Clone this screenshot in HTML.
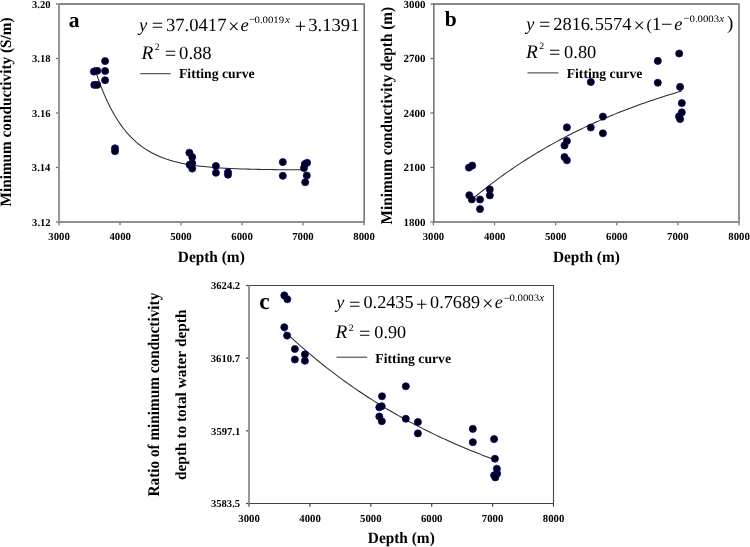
<!DOCTYPE html>
<html><head><meta charset="utf-8"><style>
html,body{margin:0;padding:0;background:#fff;}
body{width:750px;height:547px;overflow:hidden;}
svg{display:block;}
text{font-family:"Liberation Serif",serif;font-kerning:none;fill:#000;text-rendering:geometricPrecision;}
.tx{filter:grayscale(1);}
</style></head><body>
<svg width="750" height="547" viewBox="0 0 750 547">
<rect width="750" height="547" fill="#fff"/>
<g class="tx">
<text x="32.05" y="7.70" font-size="10.60" font-weight="bold">3.20</text>
<text x="32.00" y="62.20" font-size="10.60" font-weight="bold">3.18</text>
<text x="31.96" y="116.70" font-size="10.60" font-weight="bold">3.16</text>
<text x="31.85" y="171.20" font-size="10.60" font-weight="bold">3.14</text>
<text x="32.11" y="225.70" font-size="10.60" font-weight="bold">3.12</text>
<text x="48.25" y="239.50" font-size="10.75" font-weight="bold">3000</text>
<text x="109.38" y="239.50" font-size="10.75" font-weight="bold">4000</text>
<text x="170.24" y="239.50" font-size="10.75" font-weight="bold">5000</text>
<text x="231.27" y="239.50" font-size="10.75" font-weight="bold">6000</text>
<text x="292.15" y="239.50" font-size="10.75" font-weight="bold">7000</text>
<text x="353.28" y="239.50" font-size="10.75" font-weight="bold">8000</text>
<text transform="translate(177.84,261.60) scale(1.000,1.030)" font-size="15.35" font-weight="bold">Depth (m)</text>
<text transform="translate(11.40,112.20) rotate(-90) scale(1,1.040)" x="-94.26" y="0" font-size="15.25" font-weight="bold">Minimum conductivity (S/m)</text>
<text x="68.81" y="26.50" font-size="21.50" font-weight="bold">a</text>
<text x="138.95" y="30.90" font-size="18.60" font-style="italic">y</text>
<text x="151.74" y="32.44" font-size="20.30">=</text>
<text x="166.01" y="30.90" font-size="18.60">37.0417</text>
<text x="228.09" y="32.75" font-size="20.30">×</text>
<text x="240.43" y="30.90" font-size="18.60" font-style="italic">e</text>
<text x="248.93" y="23.02" font-size="11.50">−</text>
<text transform="translate(254.49,22.90) scale(1.100,1.000)" font-size="9.80">0.0019</text>
<text x="285.03" y="22.90" font-size="11.00" font-style="italic">x</text>
<text x="294.79" y="32.59" font-size="20.30">+</text>
<text x="308.31" y="30.90" font-size="18.60">3.1391</text>
<text x="141.50" y="58.80" font-size="19.30" font-style="italic">R</text>
<text x="154.87" y="50.20" font-size="9.80">2</text>
<text x="164.84" y="60.49" font-size="20.30">=</text>
<text x="179.09" y="58.80" font-size="18.60">0.88</text>
<text x="178.97" y="78.20" font-size="13.70" font-weight="bold">Fitting curve</text>
<text x="403.52" y="7.70" font-size="10.95" font-weight="bold">3000</text>
<text x="403.52" y="62.20" font-size="10.95" font-weight="bold">2700</text>
<text x="403.52" y="116.70" font-size="10.95" font-weight="bold">2400</text>
<text x="403.52" y="171.20" font-size="10.95" font-weight="bold">2100</text>
<text x="403.52" y="225.70" font-size="10.95" font-weight="bold">1800</text>
<text x="422.65" y="239.50" font-size="10.75" font-weight="bold">3000</text>
<text x="483.90" y="239.50" font-size="10.75" font-weight="bold">4000</text>
<text x="544.88" y="239.50" font-size="10.75" font-weight="bold">5000</text>
<text x="606.03" y="239.50" font-size="10.75" font-weight="bold">6000</text>
<text x="667.03" y="239.50" font-size="10.75" font-weight="bold">7000</text>
<text x="728.28" y="239.50" font-size="10.75" font-weight="bold">8000</text>
<text transform="translate(552.94,262.30) scale(1.000,1.030)" font-size="15.35" font-weight="bold">Depth (m)</text>
<text transform="translate(392.30,115.75) rotate(-90) scale(1,1.070)" x="-108.66" y="0" font-size="15.28" font-weight="bold">Minimum conductivity depth (m)</text>
<text x="444.63" y="25.80" font-size="21.50" font-weight="bold">b</text>
<text x="526.34" y="29.90" font-size="18.40" font-style="italic">y</text>
<text x="539.09" y="31.34" font-size="20.30">=</text>
<text x="553.29" y="29.90" font-size="18.40">2816</text>
<text x="589.19" y="29.90" font-size="18.40">.</text>
<text x="594.63" y="29.90" font-size="18.40">5574</text>
<text x="633.49" y="31.75" font-size="20.30">×</text>
<text x="646.40" y="30.40" font-size="16.00">(</text>
<text x="651.88" y="29.90" font-size="18.40">1</text>
<text x="660.99" y="31.34" font-size="20.30">−</text>
<text x="674.13" y="29.90" font-size="18.40" font-style="italic">e</text>
<text x="683.23" y="22.12" font-size="11.50">−</text>
<text transform="translate(689.49,22.00) scale(1.100,1.000)" font-size="9.80">0.0003</text>
<text x="719.33" y="22.00" font-size="11.00" font-style="italic">x</text>
<text x="726.89" y="29.30" font-size="19.00">)</text>
<text x="526.00" y="57.70" font-size="19.30" font-style="italic">R</text>
<text x="539.27" y="49.40" font-size="9.80">2</text>
<text x="549.09" y="59.39" font-size="20.30">=</text>
<text x="564.10" y="57.70" font-size="18.40">0.80</text>
<text x="566.67" y="77.70" font-size="13.70" font-weight="bold">Fitting curve</text>
<text x="211.01" y="289.20" font-size="10.60" font-weight="bold">3624.2</text>
<text x="210.81" y="361.87" font-size="10.60" font-weight="bold">3610.7</text>
<text x="211.10" y="434.53" font-size="10.60" font-weight="bold">3597.1</text>
<text x="210.94" y="507.20" font-size="10.60" font-weight="bold">3583.5</text>
<text x="238.25" y="521.70" font-size="10.75" font-weight="bold">3000</text>
<text x="299.28" y="521.70" font-size="10.75" font-weight="bold">4000</text>
<text x="360.04" y="521.70" font-size="10.75" font-weight="bold">5000</text>
<text x="420.97" y="521.70" font-size="10.75" font-weight="bold">6000</text>
<text x="481.75" y="521.70" font-size="10.75" font-weight="bold">7000</text>
<text x="542.78" y="521.70" font-size="10.75" font-weight="bold">8000</text>
<text transform="translate(367.84,542.70) scale(1.000,1.030)" font-size="15.35" font-weight="bold">Depth (m)</text>
<text transform="translate(159.20,394.50) rotate(-90) scale(1,1.070)" x="-102.00" y="0" font-size="15.26" font-weight="bold">Ratio of minimum conductivity</text>
<text transform="translate(186.40,394.50) rotate(-90) scale(1,1.000)" x="-85.47" y="0" font-size="15.35" font-weight="bold">depth to total water depth</text>
<text x="259.20" y="308.60" font-size="23.50" font-weight="bold">c</text>
<text x="336.32" y="308.40" font-size="18.20" font-style="italic">y</text>
<text x="348.89" y="310.59" font-size="20.30">=</text>
<text x="363.51" y="308.40" font-size="18.20">0.2435</text>
<text x="415.89" y="310.64" font-size="20.30">+</text>
<text x="430.11" y="308.40" font-size="18.20">0.7689</text>
<text x="481.89" y="310.35" font-size="20.30">×</text>
<text x="494.74" y="308.40" font-size="18.20" font-style="italic">e</text>
<text x="503.73" y="301.82" font-size="11.50">−</text>
<text transform="translate(509.49,301.20) scale(1.100,1.000)" font-size="9.80">0.0003</text>
<text x="539.33" y="301.20" font-size="11.00" font-style="italic">x</text>
<text x="335.50" y="338.40" font-size="19.30" font-style="italic">R</text>
<text x="348.77" y="331.00" font-size="9.80">2</text>
<text x="358.89" y="340.24" font-size="20.30">=</text>
<text x="374.31" y="338.40" font-size="18.20">0.90</text>
<text x="375.37" y="363.00" font-size="13.70" font-weight="bold">Fitting curve</text>
</g>
<line x1="56.00" y1="4.00" x2="59.00" y2="4.00" stroke="#666" stroke-width="1.2"/>
<line x1="56.00" y1="58.50" x2="59.00" y2="58.50" stroke="#666" stroke-width="1.2"/>
<line x1="56.00" y1="113.00" x2="59.00" y2="113.00" stroke="#666" stroke-width="1.2"/>
<line x1="56.00" y1="167.50" x2="59.00" y2="167.50" stroke="#666" stroke-width="1.2"/>
<line x1="56.00" y1="222.00" x2="59.00" y2="222.00" stroke="#666" stroke-width="1.2"/>
<line x1="59.00" y1="222.00" x2="59.00" y2="225.20" stroke="#666" stroke-width="1.2"/>
<line x1="120.00" y1="222.00" x2="120.00" y2="225.20" stroke="#666" stroke-width="1.2"/>
<line x1="181.00" y1="222.00" x2="181.00" y2="225.20" stroke="#666" stroke-width="1.2"/>
<line x1="242.00" y1="222.00" x2="242.00" y2="225.20" stroke="#666" stroke-width="1.2"/>
<line x1="303.00" y1="222.00" x2="303.00" y2="225.20" stroke="#666" stroke-width="1.2"/>
<line x1="364.00" y1="222.00" x2="364.00" y2="225.20" stroke="#666" stroke-width="1.2"/>
<line x1="58.50" y1="4.00" x2="364.50" y2="4.00" stroke="#8a8a8a" stroke-width="2"/>
<line x1="58.50" y1="222.00" x2="364.50" y2="222.00" stroke="#8e8e8e" stroke-width="2"/>
<line x1="59.00" y1="4.00" x2="59.00" y2="222.00" stroke="#959595" stroke-width="2"/>
<line x1="364.20" y1="4.00" x2="364.20" y2="222.00" stroke="#747474" stroke-width="1.6"/>
<line x1="140.30" y1="73.70" x2="170.70" y2="73.70" stroke="#333" stroke-width="1"/>
<line x1="430.40" y1="4.00" x2="433.40" y2="4.00" stroke="#666" stroke-width="1.2"/>
<line x1="430.40" y1="58.50" x2="433.40" y2="58.50" stroke="#666" stroke-width="1.2"/>
<line x1="430.40" y1="113.00" x2="433.40" y2="113.00" stroke="#666" stroke-width="1.2"/>
<line x1="430.40" y1="167.50" x2="433.40" y2="167.50" stroke="#666" stroke-width="1.2"/>
<line x1="430.40" y1="222.00" x2="433.40" y2="222.00" stroke="#666" stroke-width="1.2"/>
<line x1="433.40" y1="222.00" x2="433.40" y2="225.20" stroke="#666" stroke-width="1.2"/>
<line x1="494.52" y1="222.00" x2="494.52" y2="225.20" stroke="#666" stroke-width="1.2"/>
<line x1="555.64" y1="222.00" x2="555.64" y2="225.20" stroke="#666" stroke-width="1.2"/>
<line x1="616.76" y1="222.00" x2="616.76" y2="225.20" stroke="#666" stroke-width="1.2"/>
<line x1="677.88" y1="222.00" x2="677.88" y2="225.20" stroke="#666" stroke-width="1.2"/>
<line x1="739.00" y1="222.00" x2="739.00" y2="225.20" stroke="#666" stroke-width="1.2"/>
<line x1="432.90" y1="4.00" x2="739.50" y2="4.00" stroke="#8a8a8a" stroke-width="2"/>
<line x1="432.90" y1="222.00" x2="739.50" y2="222.00" stroke="#8e8e8e" stroke-width="2"/>
<line x1="433.85" y1="4.00" x2="433.85" y2="222.00" stroke="#585858" stroke-width="1.3"/>
<line x1="739.00" y1="4.00" x2="739.00" y2="222.00" stroke="#929292" stroke-width="2"/>
<line x1="527.50" y1="72.90" x2="558.40" y2="72.90" stroke="#333" stroke-width="1"/>
<line x1="246.00" y1="285.50" x2="249.00" y2="285.50" stroke="#444" stroke-width="1.2"/>
<line x1="246.00" y1="358.17" x2="249.00" y2="358.17" stroke="#444" stroke-width="1.2"/>
<line x1="246.00" y1="430.83" x2="249.00" y2="430.83" stroke="#444" stroke-width="1.2"/>
<line x1="246.00" y1="503.50" x2="249.00" y2="503.50" stroke="#444" stroke-width="1.2"/>
<line x1="249.00" y1="503.50" x2="249.00" y2="506.70" stroke="#444" stroke-width="1.2"/>
<line x1="309.90" y1="503.50" x2="309.90" y2="506.70" stroke="#444" stroke-width="1.2"/>
<line x1="370.80" y1="503.50" x2="370.80" y2="506.70" stroke="#444" stroke-width="1.2"/>
<line x1="431.70" y1="503.50" x2="431.70" y2="506.70" stroke="#444" stroke-width="1.2"/>
<line x1="492.60" y1="503.50" x2="492.60" y2="506.70" stroke="#444" stroke-width="1.2"/>
<line x1="553.50" y1="503.50" x2="553.50" y2="506.70" stroke="#444" stroke-width="1.2"/>
<line x1="248.50" y1="285.50" x2="554.00" y2="285.50" stroke="#444" stroke-width="1.1"/>
<line x1="248.50" y1="503.50" x2="554.00" y2="503.50" stroke="#444" stroke-width="1.1"/>
<line x1="249.00" y1="285.50" x2="249.00" y2="503.50" stroke="#999" stroke-width="2"/>
<line x1="553.50" y1="285.50" x2="553.50" y2="503.50" stroke="#444" stroke-width="1.1"/>
<line x1="336.60" y1="357.20" x2="367.20" y2="357.20" stroke="#333" stroke-width="1"/>
<polyline points="94.20,66.80 96.81,74.85 99.42,82.26 102.03,89.10 104.64,95.41 107.25,101.23 109.86,106.59 112.47,111.53 115.08,116.09 117.69,120.29 120.30,124.17 122.91,127.74 125.52,131.04 128.13,134.07 130.74,136.88 133.35,139.46 135.96,141.84 138.57,144.03 141.18,146.06 143.79,147.93 146.40,149.65 149.01,151.23 151.62,152.70 154.23,154.05 156.84,155.29 159.45,156.44 162.06,157.49 164.67,158.47 167.28,159.37 169.89,160.20 172.50,160.96 175.11,161.67 177.72,162.32 180.33,162.91 182.94,163.47 185.55,163.98 188.16,164.45 190.77,164.88 193.38,165.28 195.99,165.65 198.60,165.99 201.21,166.30 203.82,166.59 206.43,166.85 209.04,167.10 211.65,167.32 214.26,167.53 216.87,167.73 219.48,167.90 222.09,168.07 224.70,168.22 227.31,168.36 229.92,168.48 232.53,168.60 235.14,168.71 237.75,168.81 240.36,168.90 242.97,168.99 245.58,169.07 248.19,169.14 250.80,169.21 253.41,169.27 256.02,169.33 258.63,169.38 261.24,169.43 263.85,169.47 266.46,169.51 269.07,169.55 271.68,169.59 274.29,169.62 276.90,169.65 279.51,169.68 282.12,169.70 284.73,169.72 287.34,169.75 289.95,169.77 292.56,169.78 295.17,169.80 297.78,169.82 300.39,169.83 303.00,169.84" fill="none" stroke="#2a2a2a" stroke-width="1.05"/>
<polyline points="469.50,201.36 472.15,199.13 474.81,196.92 477.46,194.75 480.11,192.60 482.76,190.49 485.42,188.40 488.07,186.34 490.72,184.31 493.37,182.30 496.02,180.32 498.68,178.37 501.33,176.44 503.98,174.54 506.63,172.67 509.29,170.81 511.94,168.99 514.59,167.19 517.25,165.41 519.90,163.65 522.55,161.92 525.20,160.21 527.86,158.53 530.51,156.87 533.16,155.23 535.81,153.61 538.47,152.01 541.12,150.43 543.77,148.88 546.42,147.34 549.08,145.83 551.73,144.34 554.38,142.86 557.03,141.41 559.69,139.97 562.34,138.56 564.99,137.16 567.64,135.78 570.30,134.42 572.95,133.08 575.60,131.76 578.25,130.45 580.90,129.16 583.56,127.89 586.21,126.63 588.86,125.40 591.51,124.17 594.17,122.97 596.82,121.78 599.47,120.61 602.12,119.45 604.78,118.30 607.43,117.18 610.08,116.07 612.74,114.97 615.39,113.88 618.04,112.82 620.69,111.76 623.35,110.72 626.00,109.69 628.65,108.68 631.30,107.68 633.96,106.70 636.61,105.72 639.26,104.76 641.91,103.82 644.57,102.88 647.22,101.96 649.87,101.05 652.52,100.15 655.18,99.27 657.83,98.39 660.48,97.53 663.13,96.68 665.79,95.84 668.44,95.01 671.09,94.19 673.74,93.39 676.39,92.59 679.05,91.81 681.70,91.03" fill="none" stroke="#2a2a2a" stroke-width="1.05"/>
<polyline points="284.40,331.24 287.05,333.74 289.70,336.20 292.35,338.64 295.00,341.05 297.66,343.43 300.31,345.78 302.96,348.10 305.61,350.40 308.26,352.67 310.91,354.91 313.56,357.12 316.21,359.31 318.87,361.47 321.52,363.61 324.17,365.72 326.82,367.80 329.47,369.86 332.12,371.90 334.77,373.91 337.42,375.90 340.08,377.86 342.73,379.80 345.38,381.72 348.03,383.61 350.68,385.48 353.33,387.33 355.98,389.16 358.63,390.96 361.29,392.75 363.94,394.51 366.59,396.25 369.24,397.97 371.89,399.67 374.54,401.35 377.19,403.01 379.84,404.65 382.50,406.27 385.15,407.87 387.80,409.45 390.45,411.01 393.10,412.56 395.75,414.08 398.40,415.59 401.06,417.08 403.71,418.55 406.36,420.01 409.01,421.44 411.66,422.86 414.31,424.26 416.96,425.65 419.61,427.02 422.26,428.37 424.92,429.71 427.57,431.03 430.22,432.33 432.87,433.62 435.52,434.90 438.17,436.16 440.82,437.40 443.48,438.63 446.13,439.84 448.78,441.04 451.43,442.23 454.08,443.40 456.73,444.56 459.38,445.70 462.03,446.83 464.69,447.95 467.34,449.05 469.99,450.14 472.64,451.22 475.29,452.28 477.94,453.33 480.59,454.37 483.24,455.40 485.89,456.41 488.55,457.41 491.20,458.40 493.85,459.38 496.50,460.35" fill="none" stroke="#2a2a2a" stroke-width="1.05"/>
<g fill="#000" stroke="#0000a8" stroke-width="0.8">
<circle cx="93.90" cy="71.60" r="3.55"/>
<circle cx="97.30" cy="70.80" r="3.55"/>
<circle cx="94.30" cy="84.90" r="3.55"/>
<circle cx="97.20" cy="84.90" r="3.55"/>
<circle cx="105.10" cy="61.10" r="3.55"/>
<circle cx="105.10" cy="71.00" r="3.55"/>
<circle cx="105.10" cy="80.20" r="3.55"/>
<circle cx="115.00" cy="148.30" r="3.55"/>
<circle cx="115.00" cy="151.20" r="3.55"/>
<circle cx="189.40" cy="152.70" r="3.55"/>
<circle cx="192.20" cy="157.00" r="3.55"/>
<circle cx="189.60" cy="164.80" r="3.55"/>
<circle cx="192.20" cy="163.20" r="3.55"/>
<circle cx="192.20" cy="168.60" r="3.55"/>
<circle cx="215.90" cy="166.00" r="3.55"/>
<circle cx="215.90" cy="172.80" r="3.55"/>
<circle cx="228.00" cy="172.30" r="3.55"/>
<circle cx="228.00" cy="174.70" r="3.55"/>
<circle cx="282.80" cy="162.10" r="3.55"/>
<circle cx="282.80" cy="175.80" r="3.55"/>
<circle cx="307.10" cy="162.80" r="3.55"/>
<circle cx="304.90" cy="164.00" r="3.55"/>
<circle cx="304.00" cy="168.10" r="3.55"/>
<circle cx="306.80" cy="175.50" r="3.55"/>
<circle cx="305.20" cy="182.20" r="3.55"/>
<circle cx="468.95" cy="167.60" r="3.55"/>
<circle cx="472.20" cy="165.60" r="3.55"/>
<circle cx="469.30" cy="195.20" r="3.55"/>
<circle cx="471.80" cy="199.40" r="3.55"/>
<circle cx="480.00" cy="199.50" r="3.55"/>
<circle cx="480.00" cy="209.10" r="3.55"/>
<circle cx="489.80" cy="189.40" r="3.55"/>
<circle cx="489.80" cy="195.40" r="3.55"/>
<circle cx="566.90" cy="127.40" r="3.55"/>
<circle cx="566.90" cy="141.00" r="3.55"/>
<circle cx="564.50" cy="145.50" r="3.55"/>
<circle cx="564.50" cy="157.00" r="3.55"/>
<circle cx="566.90" cy="160.30" r="3.55"/>
<circle cx="590.80" cy="82.00" r="3.55"/>
<circle cx="590.80" cy="127.50" r="3.55"/>
<circle cx="602.90" cy="116.60" r="3.55"/>
<circle cx="602.90" cy="133.30" r="3.55"/>
<circle cx="657.80" cy="60.90" r="3.55"/>
<circle cx="657.80" cy="82.70" r="3.55"/>
<circle cx="679.20" cy="53.50" r="3.55"/>
<circle cx="680.10" cy="86.90" r="3.55"/>
<circle cx="681.80" cy="103.10" r="3.55"/>
<circle cx="681.80" cy="112.40" r="3.55"/>
<circle cx="679.00" cy="116.40" r="3.55"/>
<circle cx="680.10" cy="119.10" r="3.55"/>
<circle cx="284.30" cy="295.40" r="3.55"/>
<circle cx="287.30" cy="299.20" r="3.55"/>
<circle cx="284.30" cy="327.20" r="3.55"/>
<circle cx="287.10" cy="335.60" r="3.55"/>
<circle cx="294.90" cy="349.00" r="3.55"/>
<circle cx="294.90" cy="359.50" r="3.55"/>
<circle cx="304.90" cy="354.40" r="3.55"/>
<circle cx="304.90" cy="360.80" r="3.55"/>
<circle cx="382.00" cy="396.30" r="3.55"/>
<circle cx="379.30" cy="407.30" r="3.55"/>
<circle cx="381.70" cy="406.20" r="3.55"/>
<circle cx="379.30" cy="416.50" r="3.55"/>
<circle cx="381.80" cy="421.20" r="3.55"/>
<circle cx="405.80" cy="386.30" r="3.55"/>
<circle cx="405.80" cy="418.80" r="3.55"/>
<circle cx="417.90" cy="422.00" r="3.55"/>
<circle cx="417.90" cy="433.40" r="3.55"/>
<circle cx="472.80" cy="428.90" r="3.55"/>
<circle cx="472.80" cy="442.20" r="3.55"/>
<circle cx="494.10" cy="439.10" r="3.55"/>
<circle cx="494.90" cy="458.70" r="3.55"/>
<circle cx="496.90" cy="468.70" r="3.55"/>
<circle cx="497.10" cy="473.70" r="3.55"/>
<circle cx="494.10" cy="475.30" r="3.55"/>
<circle cx="495.30" cy="477.40" r="3.55"/>
</g>
</svg>
</body></html>
